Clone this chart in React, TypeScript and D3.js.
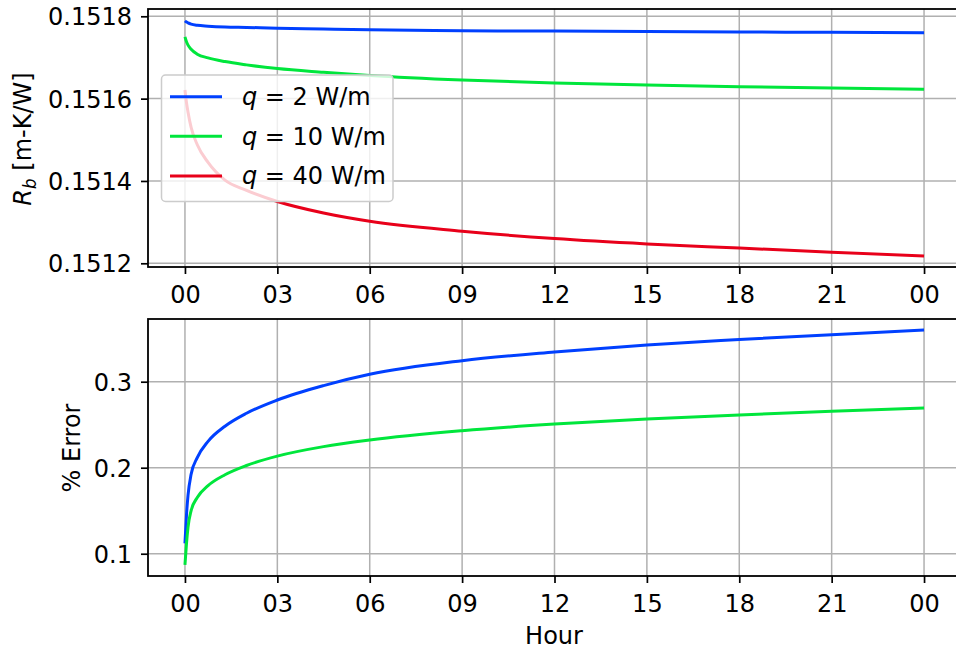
import * as d3 from 'd3';
import React, { useEffect, useRef } from 'react';

// hours since start
const hours = [0, 0.05, 0.1, 0.2, 0.4, 0.75, 1.3, 2, 3, 4.5, 6, 9, 12, 15, 18, 21, 24];

// borehole resistance Rb [m-K/W]
const rbQ2 = [0.151789, 0.151786, 0.151784, 0.151781, 0.151778, 0.151776, 0.151774, 0.151773, 0.151771, 0.151769, 0.151767, 0.151765, 0.151764, 0.151763, 0.151762, 0.151761, 0.15176];
const rbQ10 = [0.15175, 0.151738, 0.15173, 0.15172, 0.151708, 0.151699, 0.15169, 0.151682, 0.151673, 0.151664, 0.151656, 0.151645, 0.151638, 0.151633, 0.151629, 0.151626, 0.151623];
const rbQ40 = [0.151621, 0.15159, 0.151567, 0.15153, 0.151488, 0.151445, 0.151402, 0.151377, 0.15135, 0.151322, 0.151302, 0.151278, 0.15126, 0.151247, 0.151237, 0.151227, 0.151218];

// % error
const errQ2 = [0.112, 0.145, 0.168, 0.1923, 0.2117, 0.2306, 0.2482, 0.2633, 0.2787, 0.2955, 0.3086, 0.3244, 0.3345, 0.3427, 0.349, 0.3547, 0.36];
const errQ10 = [0.087, 0.112, 0.131, 0.1501, 0.1653, 0.1791, 0.1918, 0.2026, 0.2135, 0.2245, 0.2322, 0.243, 0.2508, 0.2566, 0.2614, 0.2656, 0.2694];

const hourTicks = [0, 3, 6, 9, 12, 15, 18, 21, 24];
const hourLabels = ['00', '03', '06', '09', '12', '15', '18', '21', '00'];
const rbTicks = [0.1512, 0.1514, 0.1516, 0.1518];
const errTicks = [0.1, 0.2, 0.3];

const seriesNames = ['2 W/m', '10 W/m', '40 W/m'];
const colors = ['#0040ff', '#00e63c', '#e8001a'];

const FONT = 'DejaVu Sans, sans-serif';
const FS = 24;

const App = () => {
  const ref = useRef<SVGSVGElement | null>(null);

  useEffect(() => {
    const svg = d3.select(ref.current);
    svg.selectAll('*').remove();

    const left = 148, right = 961;
    const x = d3.scaleLinear().domain([-1.2, 25.2]).range([left, right]);

    const drawPanel = (top: number, bottom: number, y: any, yTicks: number[], fmt: (d: any) => string, series: number[][]) => {
      const g = svg.append('g');

      // grid
      g.append('g').selectAll('line.vg').data(hourTicks).join('line')
        .attr('x1', d => x(d)).attr('x2', d => x(d))
        .attr('y1', top).attr('y2', bottom)
        .attr('stroke', '#b0b0b0').attr('stroke-width', 1.5);
      g.append('g').selectAll('line.hg').data(yTicks).join('line')
        .attr('x1', left).attr('x2', right)
        .attr('y1', d => y(d)).attr('y2', d => y(d))
        .attr('stroke', '#b0b0b0').attr('stroke-width', 1.5);

      // lines
      const clipId = 'clip' + top;
      svg.append('clipPath').attr('id', clipId).append('rect')
        .attr('x', left).attr('y', top).attr('width', right - left).attr('height', bottom - top);
      const line = d3.line<number>()
        .curve(d3.curveMonotoneX)
        .x((d, i) => x(hours[i]))
        .y(d => y(d));
      g.append('g').attr('clip-path', `url(#${clipId})`)
        .selectAll('path').data(series).join('path')
        .attr('fill', 'none')
        .attr('stroke', (d, i) => colors[i])
        .attr('stroke-width', 3)
        .attr('d', d => line(d));

      // spines
      g.append('rect')
        .attr('x', left).attr('y', top).attr('width', right - left).attr('height', bottom - top)
        .attr('fill', 'none').attr('stroke', 'black').attr('stroke-width', 1.8);

      // x axis
      g.append('g')
        .attr('transform', `translate(0, ${bottom})`)
        .call(d3.axisBottom(x).tickValues(hourTicks).tickSize(7).tickPadding(5).tickFormat((d, i) => hourLabels[i]))
        .call(a => a.select('.domain').remove())
        .call(a => a.selectAll('.tick line').attr('stroke-width', 1.7))
        .call(a => a.selectAll('.tick text').attr('font-family', FONT).attr('font-size', FS).attr('fill', 'black')
          .attr('dy', null).attr('y', 35.7));

      // y axis
      g.append('g')
        .attr('transform', `translate(${left}, 0)`)
        .call(d3.axisLeft(y).tickValues(yTicks).tickSize(7).tickPadding(9).tickFormat(fmt))
        .call(a => a.select('.domain').remove())
        .call(a => a.selectAll('.tick line').attr('stroke-width', 1.7))
        .call(a => a.selectAll('.tick text').attr('font-family', FONT).attr('font-size', FS).attr('fill', 'black')
          .attr('dy', '0.35em'));
      return g;
    };

    // top panel
    const yTop = d3.scaleLinear().domain([0.151191, 0.1518177]).range([267, 9]);
    drawPanel(9, 267, yTop, rbTicks, d => d3.format('.4f')(d), [rbQ2, rbQ10, rbQ40]);

    const ylab = svg.append('text')
      .attr('transform', 'translate(31, 139) rotate(-90)')
      .attr('text-anchor', 'middle')
      .attr('font-family', FONT).attr('font-size', FS);
    ylab.append('tspan').attr('font-style', 'italic').text('R');
    ylab.append('tspan').attr('font-style', 'italic').attr('font-size', FS * 0.7).attr('dy', 5).text('b');
    ylab.append('tspan').attr('dy', -5).text(' [m-K/W]');

    // legend
    const lg = svg.append('g');
    lg.append('rect')
      .attr('x', 161.5).attr('y', 75).attr('width', 231.5).attr('height', 126.5)
      .attr('rx', 4).attr('fill', 'white').attr('fill-opacity', 0.8)
      .attr('stroke', '#cccccc').attr('stroke-width', 1.5);
    seriesNames.forEach((name, i) => {
      const yy = 96.7 + i * 39.6;
      lg.append('line').attr('x1', 170).attr('x2', 222).attr('y1', yy).attr('y2', yy)
        .attr('stroke', colors[i]).attr('stroke-width', 3);
      const t = lg.append('text').attr('x', 242).attr('y', yy).attr('dy', '0.35em')
        .attr('font-family', FONT).attr('font-size', FS);
      t.append('tspan').attr('font-style', 'italic').text('q');
      t.append('tspan').text(' = ' + name);
    });

    // bottom panel
    const yBot = d3.scaleLinear().domain([0.0741, 0.3729]).range([576, 319]);
    drawPanel(319, 576, yBot, errTicks, d => d3.format('.1f')(d), [errQ2, errQ10]);

    svg.append('text')
      .attr('transform', 'translate(80, 448) rotate(-90)')
      .attr('text-anchor', 'middle')
      .attr('font-family', FONT).attr('font-size', FS)
      .text('% Error');

    svg.append('text')
      .attr('x', 554).attr('y', 644)
      .attr('text-anchor', 'middle')
      .attr('font-family', FONT).attr('font-size', FS)
      .text('Hour');
  }, []);

  return (
    <svg ref={ref} width={956} height={652}
      style={{ position: 'absolute', left: 0, top: 0, background: 'white' }} />
  );
};

export default App;
